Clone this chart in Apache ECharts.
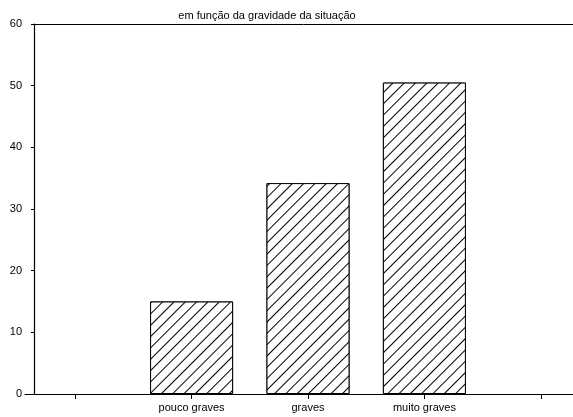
<!DOCTYPE html>
<html>
<head>
<meta charset="utf-8">
<script src="https://cdn.jsdelivr.net/npm/echarts@6/dist/echarts.min.js"></script>
<style>
    html, body { margin: 0; padding: 0; background: #fff; }
    #container { width: 573px; height: 417px; }
</style>
</head>
<body>
<div id="container"></div>
<script>
    // dados do gráfico
    var categorias = ['', 'pouco graves', 'graves', 'muito graves', ''];
    var valores = [null, 15, 34.2, 50.5, null];
    var yTicks = [0, 10, 20, 30, 40, 50, 60];

    var myChart = echarts.init(document.getElementById('container'));

    var option = {
        animation: false,
        backgroundColor: '#fff',
        title: {
            text: 'em função da gravidade da situação',
            left: 262,
            textAlign: 'center',
            top: 5,
            textStyle: { fontFamily: 'Liberation Sans', fontSize: 11, fontWeight: 'normal', color: '#000' }
        },
        grid: [
            { left: 34, right: 0, top: 24, bottom: 23, outerBoundsMode: 'none' },
            { left: 17, width: 582, top: 24, bottom: 23, outerBoundsMode: 'none' },
            { left: 25, right: 0, top: 24, bottom: 23, outerBoundsMode: 'none' }
        ],
        xAxis: [
            {
                // linha superior
                gridIndex: 0,
                type: 'value',
                position: 'top',
                min: 0,
                max: 1,
                axisLine: { show: true, onZero: false, lineStyle: { color: '#000', width: 1 } },
                axisTick: { show: false },
                axisLabel: { show: false },
                splitLine: { show: false }
            },
            {
                gridIndex: 1,
                type: 'category',
                data: categorias,
                axisLine: { show: false },
                axisTick: { show: true, alignWithLabel: true, length: 5, lineStyle: { color: '#000' } },
                axisLabel: { color: '#000', fontFamily: 'Liberation Sans', fontSize: 11, margin: 8, interval: 0 }
            },
            {
                // linha do eixo x
                gridIndex: 2,
                type: 'value',
                min: 0,
                max: 1,
                axisLine: { show: true, onZero: false, lineStyle: { color: '#000', width: 1 } },
                axisTick: { show: false },
                axisLabel: { show: false },
                splitLine: { show: false }
            }
        ],
        yAxis: [
            {
                gridIndex: 0,
                type: 'value',
                min: yTicks[0],
                max: yTicks[yTicks.length - 1],
                interval: 10,
                axisLine: { show: true, lineStyle: { color: '#000', width: 1.2 } },
                axisTick: { show: true, length: 3, lineStyle: { color: '#000' } },
                axisLabel: { color: '#000', fontFamily: 'Liberation Sans', fontSize: 11, margin: 12 },
                splitLine: { show: false }
            },
            {
                gridIndex: 1,
                type: 'value',
                min: yTicks[0],
                max: yTicks[yTicks.length - 1],
                show: false
            },
            {
                gridIndex: 2,
                type: 'value',
                min: 0,
                max: 1,
                show: false
            }
        ],
        series: [
            {
                type: 'bar',
                xAxisIndex: 1,
                yAxisIndex: 1,
                data: valores,
                barWidth: 83,
                itemStyle: {
                    color: '#fff',
                    borderColor: '#000',
                    borderWidth: 1,
                    decal: {
                        symbol: 'rect',
                        symbolSize: 1,
                        color: '#000',
                        backgroundColor: '#fff',
                        dashArrayX: [1, 0],
                        dashArrayY: [1, 7],
                        rotation: -Math.PI / 4
                    }
                }
            }
        ]
    };

    myChart.setOption(option);
</script>
</body>
</html>
